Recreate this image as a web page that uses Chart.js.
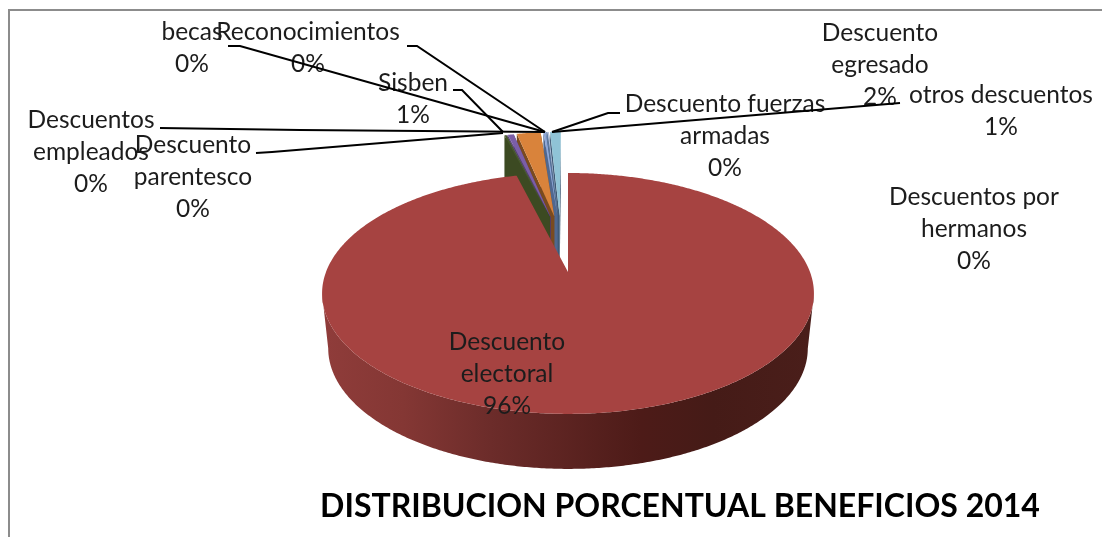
<!DOCTYPE html>
<html>
<head>
<meta charset="utf-8">
<style>
  html, body { margin: 0; padding: 0; background: #fff; }
  canvas { display: block; }
</style>
<script src="https://cdn.jsdelivr.net/npm/chart.js@4/dist/chart.umd.js"></script>
</head>
<body>
<canvas id="grafico" width="1102" height="537"></canvas>
<script>
// datos, el orden empieza en el primer sector pequeno para que el rojo se pinte el ultimo
var categorias = ["Descuento parentesco", "Descuentos empleados", "Sisben", "Descuento egresado", "becas", "Reconocimientos", "Descuento fuerzas armadas", "otros descuentos", "Descuentos por hermanos", "Descuento electoral"]
var valores = [0.15, 0.05, 0.5, 2.0, 0.2, 0.1, 0.1, 0.9, 0, 96]
var porcentajes = ["0%", "0%", "1%", "2%", "0%", "0%", "0%", "1%", "0%", "96%"]
var colores = ["#47592b", "#7b5ea7", "#7b5ea7", "#d9833b", "#8fa8d8", "#5f7ca8", "#b5c4e0", "#8fc3d6", "#4f81bd", "#a64341"]
var coloresLado = ["#3c4a22", "#3c4a22", "#4f3a70", "#7a4a1f", "#50688f", "#3f5a75", "#3f5a75", "#3f5a75", "#2f4d72", "#4a1c1a"]
var separacion = [128, 128, 128, 128, 128, 128, 128, 128, 0, 0]

// posicion de cada etiqueta (centro x, y de la primera linea) y como se parte el texto
var textoEtiquetas = [
  {x: 193, y: 145, lineas: ["Descuento", "parentesco"]},
  {x: 91, y: 120, lineas: ["Descuentos", "empleados"]},
  {x: 413, y: 83, lineas: ["Sisben"]},
  {x: 880, y: 33, lineas: ["Descuento", "egresado"]},
  {x: 192, y: 32, lineas: ["becas"]},
  {x: 308, y: 32, lineas: ["Reconocimientos"]},
  {x: 725, y: 104, lineas: ["Descuento fuerzas", "armadas"]},
  {x: 1001, y: 95, lineas: ["otros descuentos"]},
  {x: 974, y: 197, lineas: ["Descuentos por", "hermanos"]},
  {x: 507, y: 342, lineas: ["Descuento", "electoral"]}
]
var lineasGuia = [
  [[256, 153], [272, 152], [503, 133]],
  [[160, 128], [300, 130], [545, 132]],
  [[453, 90], [462, 90], [503, 132]],
  [[228, 46], [240, 46], [545, 132]],
  [[407, 46], [417, 46], [545, 132]],
  [[620, 113], [608, 113], [552, 132]],
  [[900, 103], [552, 132]]
]
var titulo = "DISTRIBUCION PORCENTUAL BENEFICIOS 2014"

var K = 0.178        // perspectiva del disco
var ASPECTO = 0.482
var ALTO = 55        // grosor de la tarta

function proyectar(arc, u, v, bajo) {
  var den = 1 - K * v
  var r = arc.outerRadius
  var ancho = bajo ? r * 0.975 : r
  return {x: arc.x + ancho * u / den, y: arc.y + r * ASPECTO * v / den + (bajo ? ALTO : 0)}
}

class Arco3D extends Chart.ArcElement {
  static id = "arco3d"
  static defaults = Chart.ArcElement.defaults

  desplazamiento() {
    var medio = (this.startAngle + this.endAngle) / 2
    var d = (this.options.offset || 0) / this.outerRadius
    // en x se separan menos que en el grafico real, si no quedan huecos muy grandes
    return {u: (Math.cos(medio) * 0.4 - 0.06) * d, v: Math.sin(medio) * d}
  }

  caras(ctx) {
    if (this.circumference === 0) return
    var d = this.desplazamiento()
    var bordes = [this.startAngle, this.endAngle]
    ctx.fillStyle = this.options.borderColor
    for (var i = 0; i < 2; i++) {
      var a = proyectar(this, d.u, d.v)
      var b = proyectar(this, d.u + Math.cos(bordes[i]), d.v + Math.sin(bordes[i]))
      ctx.beginPath()
      ctx.moveTo(a.x, a.y)
      ctx.lineTo(b.x, b.y)
      ctx.lineTo(b.x, b.y + ALTO)
      ctx.lineTo(a.x, a.y + ALTO)
      ctx.closePath()
      ctx.fill()
    }
  }

  draw(ctx) {
    if (this.circumference === 0) return
    var d = this.desplazamiento()
    var paso = Math.PI / 360
    var n = Math.ceil(this.circumference / paso)
    var i, t, p

    // lateral exterior, solo la parte de delante
    var frente = []
    for (i = 0; i <= n; i++) {
      t = this.startAngle + this.circumference * i / n
      if (Math.sin(t) >= K) frente.push(t)
    }
    if (frente.length > 1) {
      var izq = this.x - this.outerRadius
      var grad = ctx.createLinearGradient(izq, 0, izq + 2 * this.outerRadius, 0)
      grad.addColorStop(0, "#8f3c3a")
      grad.addColorStop(0.16, "#843734")
      grad.addColorStop(0.34, "#6c2c2a")
      grad.addColorStop(0.65, "#4d1b18")
      grad.addColorStop(0.8, "#451b17")
      grad.addColorStop(1, "#4a1e1a")
      ctx.fillStyle = grad
      ctx.beginPath()
      for (i = 0; i < frente.length; i++) {
        p = proyectar(this, d.u + Math.cos(frente[i]), d.v + Math.sin(frente[i]))
        ctx.lineTo(p.x, p.y)
      }
      for (i = frente.length - 1; i >= 0; i--) {
        p = proyectar(this, d.u + Math.cos(frente[i]), d.v + Math.sin(frente[i]), true)
        ctx.lineTo(p.x, p.y)
      }
      ctx.closePath()
      ctx.fill()
    }

    // cara de arriba
    ctx.fillStyle = this.options.backgroundColor
    ctx.beginPath()
    p = proyectar(this, d.u, d.v)
    ctx.moveTo(p.x, p.y)
    for (i = 0; i <= n; i++) {
      t = this.startAngle + this.circumference * i / n
      p = proyectar(this, d.u + Math.cos(t), d.v + Math.sin(t))
      ctx.lineTo(p.x, p.y)
    }
    ctx.closePath()
    ctx.fill()
  }
}

class Tarta3D extends Chart.PieController {
  static id = "tarta3d"
  static defaults = {dataElementType: "arco3d"}
}

Chart.register(Arco3D, Tarta3D)

var textos = {
  id: "textos",
  beforeDatasetsDraw: function (chart) {
    var arcos = chart.getDatasetMeta(0).data
    for (var i = arcos.length - 1; i >= 0; i--) {
      if (arcos[i].options.offset > 0) arcos[i].caras(chart.ctx)
    }
  },
  afterDraw: function (chart) {
    var ctx = chart.ctx
    ctx.save()

    // marco
    ctx.strokeStyle = "#8c8c8c"
    ctx.lineWidth = 2
    ctx.beginPath()
    ctx.moveTo(9, 537)
    ctx.lineTo(9, 10)
    ctx.lineTo(1102, 10)
    ctx.stroke()

    ctx.textAlign = "center"
    ctx.textBaseline = "middle"
    ctx.font = "24.5px Lato"
    ctx.fillStyle = "#1c1c1c"
    for (var i = 0; i < categorias.length; i++) {
      var e = textoEtiquetas[i]
      var filas = e.lineas.concat(porcentajes[i])
      for (var j = 0; j < filas.length; j++) {
        ctx.fillText(filas[j], e.x, e.y + j * 32)
      }
    }

    ctx.strokeStyle = "#000"
    ctx.lineWidth = 2
    lineasGuia.forEach(function (l) {
      ctx.beginPath()
      l.forEach(function (p) { ctx.lineTo(p[0], p[1]) })
      ctx.stroke()
    })

    ctx.font = "bold 32px Lato"
    ctx.fillStyle = "#000"
    ctx.fillText(titulo, 680, 507)
    ctx.restore()
  }
}

var suma = valores.reduce(function (a, b) { return a + b }, 0)
var pequenos = suma - valores[valores.length - 1]

new Chart(document.getElementById("grafico"), {
  type: "tarta3d",
  data: {
    labels: categorias,
    datasets: [{
      data: valores,
      backgroundColor: colores,
      borderColor: coloresLado,
      borderWidth: 0,
      offset: separacion
    }]
  },
  options: {
    responsive: false,
    animation: false,
    radius: 242,
    rotation: -pequenos / suma * 360,
    layout: {padding: {left: 34, top: 7}},
    plugins: {legend: {display: false}, tooltip: {enabled: false}}
  },
  plugins: [textos]
})
</script>
</body>
</html>
